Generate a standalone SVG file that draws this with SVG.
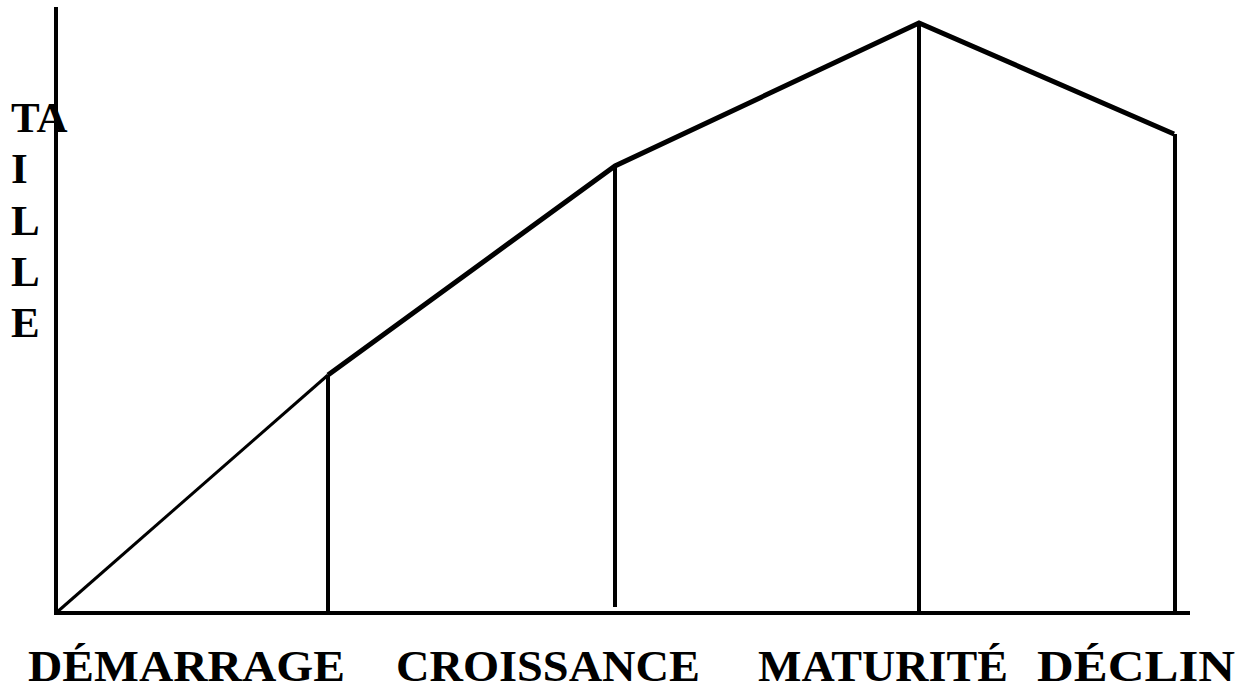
<svg xmlns="http://www.w3.org/2000/svg" width="1247" height="692" viewBox="0 0 1247 692">
<style>
.ax{stroke:#000;stroke-width:4;fill:none}
.v{stroke:#000;stroke-width:4;fill:none}
.c{stroke:#000;stroke-width:5;fill:none;stroke-linejoin:miter}
.t{font-family:"Liberation Serif","Times New Roman",serif;font-weight:bold;fill:#000}
.lab{font-size:45px}
.ylab{font-size:43px}
</style>
<rect width="1247" height="692" fill="#fff"/>
<g id="connectors">
<line class="ax" x1="56" y1="7" x2="56" y2="615"/>
<line class="ax" x1="54" y1="613" x2="1190" y2="613"/>
<line stroke="#000" stroke-width="3" x1="56" y1="613" x2="328" y2="375"/>
<polyline class="c" points="328,375 615,166 919,23 1174,134"/>
<line class="v" x1="328" y1="375" x2="328" y2="613"/>
<line class="v" x1="615" y1="166" x2="615" y2="607"/>
<line class="v" x1="919" y1="23" x2="919" y2="613"/>
<line class="v" x1="1175" y1="134" x2="1175" y2="613"/>
</g>
<g id="axis-y-label" class="t ylab">
<text x="11" y="132">TA</text>
<text x="11" y="183">I</text>
<text x="11" y="235">L</text>
<text x="11" y="286">L</text>
<text x="11" y="337">E</text>
</g>
<g id="stages" class="t lab">
<text id="demarrage" x="28" y="681" textLength="317" lengthAdjust="spacingAndGlyphs">DÉMARRAGE</text>
<text id="croissance" x="396" y="681" textLength="304" lengthAdjust="spacingAndGlyphs">CROISSANCE</text>
<text id="maturite" x="758" y="681" textLength="250" lengthAdjust="spacingAndGlyphs">MATURITÉ</text>
<text id="declin" x="1037" y="681" textLength="198" lengthAdjust="spacingAndGlyphs">DÉCLIN</text>
</g>
</svg>
